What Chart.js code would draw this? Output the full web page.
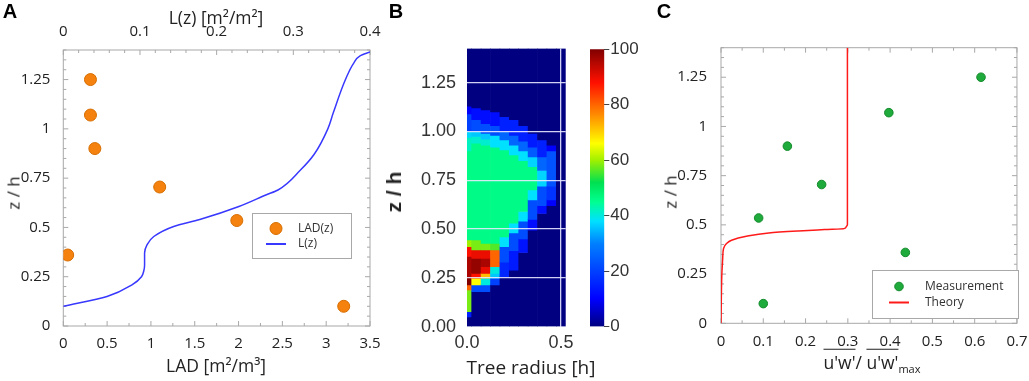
<!DOCTYPE html>
<html>
<head>
<meta charset="utf-8">
<script src="https://cdn.jsdelivr.net/npm/chart.js@4.4.0/dist/chart.umd.min.js"></script>
<style>
  body { margin: 0; background: #fff; }
  #fig { position: relative; width: 1029px; height: 381px; overflow: hidden; font-family: 'Open Sans', sans-serif; color: #222; }
  #fig canvas { position: absolute; top: 0; }
  .lbl { position: absolute; transform: translate(-50%, -50%); white-space: nowrap; line-height: 1; }
  .rot { transform: translate(-50%, -50%) rotate(-90deg); }
  .letter { position: absolute; transform: translate(-50%, -50%); font: bold 20px 'Liberation Sans', Arial, sans-serif; color: #000; line-height: 1; }
  .ol { text-decoration: overline; }
  sub { font-size: 11px; }
</style>
</head>
<body>
<div id="fig">
  <canvas id="chartA" width="400" height="381" style="left:0px"></canvas>
  <canvas id="chartB" width="210" height="381" style="left:370px"></canvas>
  <canvas id="chartCb" width="70" height="381" style="left:580px"></canvas>
  <canvas id="chartC" width="379" height="381" style="left:650px"></canvas>

  <div class="letter" style="left:10px; top:11px">A</div>
  <div class="letter" style="left:396px; top:11px">B</div>
  <div class="letter" style="left:664px; top:11px">C</div>

  <div class="lbl" style="left:216px; top:18px; font-size:17.5px">L(z) [m²/m²]</div>
  <div class="lbl" style="left:216px; top:366px; font-size:17.5px">LAD [m²/m³]</div>
  <div class="lbl rot" style="left:13px; top:193px; font-size:17px">z / h</div>

  <div class="lbl rot" style="left:394px; top:192px; font:bold 21px 'Liberation Sans', Arial, sans-serif">z / h</div>
  <div class="lbl" style="left:531px; top:367px; font-size:19px">Tree radius [h]</div>

  <div class="lbl rot" style="left:670px; top:192px; font-size:17px">z / h</div>
  <div class="lbl" style="left:872px; top:364px; font-size:17.5px"><span class="ol">u'w'</span>/ <span class="ol">u'w'</span><sub>max</sub></div>
</div>
<script>
// ---- panel A: leaf area density and cumulative leaf area ----
const sampleHeights = [0.10, 0.36, 0.535, 0.705, 0.90, 1.07, 1.25];
const ladValues = [3.20, 0.05, 1.98, 1.10, 0.36, 0.31, 0.31];
const cumZ = [0.10, 0.15, 0.21, 0.25, 0.28, 0.31, 0.37, 0.41, 0.454, 0.505, 0.54, 0.606, 0.666, 0.69, 0.79, 0.87, 1.0, 1.08, 1.25, 1.335, 1.37, 1.39];
const cumL = [0, 0.057, 0.09, 0.102, 0.105, 0.106, 0.106, 0.109, 0.118, 0.144, 0.178, 0.229, 0.265, 0.28, 0.309, 0.327, 0.345, 0.352, 0.368, 0.379, 0.387, 0.40];

// ---- panel B: heat map, one column per tree radius, runs of [zLow, zHigh, value] ----
const treeRadius = [0, 0.05, 0.10, 0.15, 0.20, 0.25, 0.30, 0.35, 0.40, 0.45, 0.50];
const cellRuns = [
  [[0, 0.05, 0], [0.05, 0.077, 15], [0.077, 0.188, 58], [0.188, 0.214, 80], [0.214, 0.25, 100], [0.25, 0.36, 96], [0.36, 0.41, 88], [0.41, 0.444, 60], [0.444, 0.90, 46], [0.90, 0.97, 42], [0.97, 1.0, 37], [1.0, 1.09, 20], [1.09, 1.13, 10], [1.13, 1.425, 0]],
  [[0, 0.179, 0], [0.179, 0.214, 22], [0.214, 0.248, 66], [0.248, 0.273, 88], [0.273, 0.35, 98], [0.35, 0.393, 90], [0.393, 0.444, 58], [0.444, 0.94, 46], [0.94, 0.975, 41], [0.975, 1.0, 36], [1.0, 1.06, 22], [1.06, 1.12, 12], [1.12, 1.425, 0]],
  [[0, 0.179, 0], [0.179, 0.214, 22], [0.214, 0.248, 40], [0.248, 0.273, 72], [0.273, 0.307, 90], [0.307, 0.35, 96], [0.35, 0.393, 90], [0.393, 0.427, 58], [0.427, 0.93, 46], [0.93, 0.96, 41], [0.96, 0.99, 36], [0.99, 1.04, 22], [1.04, 1.11, 12], [1.11, 1.425, 0]],
  [[0, 0.214, 0], [0.214, 0.248, 20], [0.248, 0.273, 36], [0.273, 0.307, 40], [0.307, 0.393, 80], [0.393, 0.427, 56], [0.427, 0.92, 46], [0.92, 0.98, 38], [0.98, 1.03, 22], [1.03, 1.10, 12], [1.10, 1.425, 0]],
  [[0, 0.256, 0], [0.256, 0.33, 16], [0.33, 0.41, 22], [0.41, 0.46, 38], [0.46, 0.905, 46], [0.905, 0.957, 38], [0.957, 1.0, 26], [1.0, 1.076, 15], [1.076, 1.425, 0]],
  [[0, 0.29, 0], [0.29, 0.39, 14], [0.39, 0.48, 22], [0.48, 0.53, 38], [0.53, 0.88, 46], [0.88, 0.93, 38], [0.93, 0.98, 26], [0.98, 1.06, 15], [1.06, 1.425, 0]],
  [[0, 0.38, 0], [0.38, 0.45, 13], [0.45, 0.54, 22], [0.54, 0.59, 38], [0.59, 0.85, 46], [0.85, 0.90, 38], [0.90, 0.95, 26], [0.95, 1.03, 15], [1.03, 1.425, 0]],
  [[0, 0.495, 0], [0.495, 0.55, 12], [0.55, 0.65, 22], [0.65, 0.70, 38], [0.70, 0.82, 46], [0.82, 0.87, 37], [0.87, 0.92, 24], [0.92, 0.99, 14], [0.99, 1.425, 0]],
  [[0, 0.58, 0], [0.58, 0.62, 12], [0.62, 0.72, 22], [0.72, 0.80, 37], [0.80, 0.87, 26], [0.87, 0.957, 15], [0.957, 1.425, 0]],
  [[0, 0.62, 0], [0.62, 0.65, 10], [0.65, 0.72, 18], [0.72, 0.90, 23], [0.90, 0.93, 10], [0.93, 1.425, 0]],
  [[0, 1.425, 0]]
];
const cmapStops = [0, 10, 30, 38, 45, 52, 60, 66, 76, 88, 100];
const cmapColors = ['#000080', '#0000ff', '#0080ff', '#00e0ff', '#00ff90', '#00e050', '#a0f000', '#ffff00', '#ff9000', '#ff1000', '#800000'];
const colorbarTicks = [0, 20, 40, 60, 80, 100];

// ---- panel C: momentum flux ----
const fluxValues = [0.10, 0.436, 0.089, 0.238, 0.157, 0.397, 0.615];
const theoryZ = [0, 0.25, 0.33, 0.38, 0.405, 0.422, 0.442, 0.459, 0.469, 0.476, 0.481, 0.49, 0.50, 1.4];
const theoryFlux = [0, 0.002, 0.004, 0.006, 0.013, 0.025, 0.06, 0.113, 0.183, 0.245, 0.291, 0.296, 0.299, 0.299];

const openSans = "'Open Sans', sans-serif";
const arial = "'Liberation Sans', Arial, sans-serif";

function isMajor(v, step) {
  return Math.abs(v / step - Math.round(v / step)) < 1e-6;
}

function num(v) {
  return String(+v.toFixed(3));
}

function hexRgb(h) {
  return [parseInt(h.slice(1, 3), 16), parseInt(h.slice(3, 5), 16), parseInt(h.slice(5, 7), 16)];
}

function colorAt(v) {
  for (let i = 1; i < cmapStops.length; i++) {
    if (v <= cmapStops[i]) {
      const t = (v - cmapStops[i - 1]) / (cmapStops[i] - cmapStops[i - 1]);
      const a = hexRgb(cmapColors[i - 1]), b = hexRgb(cmapColors[i]);
      const c = a.map((x, k) => Math.round(x + (b[k] - x) * t));
      return `rgb(${c[0]},${c[1]},${c[2]})`;
    }
  }
  return cmapColors[cmapColors.length - 1];
}

// box around the plot area with small ticks pointing inwards
const framePlugin = {
  id: 'frame',
  beforeDatasetsDraw(chart, args, opts) {
    const { ctx, chartArea: a } = chart;
    ctx.save();
    ctx.strokeStyle = '#a8a8a8';
    ctx.lineWidth = 1;
    ctx.strokeRect(a.left, a.top, a.right - a.left, a.bottom - a.top);
    opts.axes.forEach(ax => {
      const s = chart.scales[ax.id];
      s.ticks.forEach(t => {
        const p = s.getPixelForValue(t.value);
        const len = t.label === '' ? 3 : 5;
        ax.sides.forEach(side => {
          ctx.beginPath();
          if (side === 'bottom') { ctx.moveTo(p, a.bottom); ctx.lineTo(p, a.bottom - len); }
          if (side === 'top') { ctx.moveTo(p, a.top); ctx.lineTo(p, a.top + len); }
          if (side === 'left') { ctx.moveTo(a.left, p); ctx.lineTo(a.left + len, p); }
          if (side === 'right') { ctx.moveTo(a.right, p); ctx.lineTo(a.right - len, p); }
          ctx.stroke();
        });
      });
    });
    ctx.restore();
  }
};

// legend in a box inside the plot
const boxLegendPlugin = {
  id: 'boxLegend',
  afterDatasetsDraw(chart, args, opts) {
    const { ctx } = chart;
    const b = opts.box;
    ctx.save();
    ctx.fillStyle = '#fff';
    ctx.fillRect(b.x, b.y, b.w, b.h);
    ctx.strokeStyle = '#a8a8a8';
    ctx.lineWidth = 1;
    ctx.strokeRect(b.x + 0.5, b.y + 0.5, b.w, b.h);
    ctx.font = `12px ${openSans}`;
    ctx.textBaseline = 'middle';
    chart.data.datasets.forEach((ds, i) => {
      const y = b.y + opts.rows[i];
      const cx = b.x + opts.symbolX;
      if (ds.type === 'line') {
        ctx.strokeStyle = ds.borderColor;
        ctx.lineWidth = 2;
        ctx.beginPath();
        ctx.moveTo(cx - 10, y);
        ctx.lineTo(cx + 10, y);
        ctx.stroke();
      } else {
        ctx.fillStyle = ds.backgroundColor;
        ctx.strokeStyle = ds.borderColor;
        ctx.lineWidth = 1;
        ctx.beginPath();
        ctx.arc(cx, y, ds.pointRadius, 0, Math.PI * 2);
        ctx.fill();
        ctx.stroke();
      }
      ctx.fillStyle = '#333';
      ctx.fillText(ds.label, b.x + opts.textX, y);
    });
    ctx.restore();
  }
};

function frameAxis(min, max, step, major, pos, size, pad) {
  return {
    type: 'linear', position: pos, min: min, max: max,
    grid: { display: false }, border: { display: false },
    ticks: {
      stepSize: step, autoSkip: false, maxRotation: 0, includeBounds: false,
      padding: pad, color: '#222', font: { family: openSans, size: 15 },
      callback: v => isMajor(v, major) ? num(v) : ''
    },
    afterFit: s => {
      if (pos === 'left') s.width = size; else s.height = size;
    }
  };
}

// ---- chart A ----
new Chart(document.getElementById('chartA'), {
  type: 'scatter',
  data: {
    datasets: [
      {
        label: 'LAD(z)',
        data: ladValues.map((v, i) => ({ x: v, y: sampleHeights[i] })),
        xAxisID: 'x',
        pointRadius: 6,
        backgroundColor: '#f5820f',
        borderColor: '#d66d00',
        borderWidth: 1
      },
      {
        label: 'L(z)',
        type: 'line',
        data: cumL.map((v, i) => ({ x: v, y: cumZ[i] })),
        xAxisID: 'x2',
        indexAxis: 'y',
        cubicInterpolationMode: 'monotone',
        borderColor: '#3838ff',
        borderWidth: 1.5,
        pointRadius: 0,
        fill: false
      }
    ]
  },
  options: {
    responsive: false,
    animation: false,
    layout: { padding: { left: 0, right: 30, top: 0, bottom: 0 } },
    plugins: {
      legend: { display: false },
      tooltip: { enabled: false },
      frame: { axes: [{ id: 'x', sides: ['bottom'] }, { id: 'x2', sides: ['top'] }, { id: 'y', sides: ['left', 'right'] }] },
      boxLegend: { box: { x: 252, y: 213, w: 99, h: 45 }, rows: [15.5, 31], symbolX: 24, textX: 46 }
    },
    scales: {
      x: frameAxis(0, 3.5, 0.25, 0.5, 'bottom', 55, 1),
      x2: frameAxis(0, 0.4, 0.02, 0.1, 'top', 50, 1),
      y: frameAxis(0, 1.4, 0.05, 0.25, 'left', 63.3, 5)
    }
  },
  plugins: [framePlugin, boxLegendPlugin]
});

// ---- chart B: heat map from floating bars ----
const heatCells = [];
treeRadius.forEach((r, i) => {
  cellRuns[i].forEach(run => heatCells.push({ x: r, y: [run[0], run[1]], v: run[2] }));
});

const whiteGrid = c => (c.tick && c.tick.value === 0) ? 'rgba(0,0,0,0)' : 'rgba(232,232,255,0.9)';

new Chart(document.getElementById('chartB'), {
  type: 'bar',
  data: {
    datasets: [{
      data: heatCells,
      backgroundColor: c => colorAt(c.raw ? c.raw.v : 0),
      borderWidth: 0,
      barPercentage: 1,
      categoryPercentage: 1
    }]
  },
  options: {
    responsive: false,
    animation: false,
    layout: { padding: { left: 0, right: 10, top: 48.5, bottom: 0 } },
    plugins: { legend: { display: false }, tooltip: { enabled: false } },
    scales: {
      x: {
        type: 'linear', min: 0, max: 0.525, offset: false,
        grid: { offset: false, drawTicks: false, color: whiteGrid, lineWidth: 1.3, z: 1 },
        border: { display: false },
        ticks: {
          stepSize: 0.5, includeBounds: false, maxRotation: 0, padding: 6,
          color: '#333', font: { family: arial, size: 18 },
          callback: v => v.toFixed(1)
        },
        afterFit: s => { s.height = 54.3; }
      },
      y: {
        type: 'linear', min: 0, max: 1.425, beginAtZero: true,
        grid: { drawTicks: false, color: whiteGrid, lineWidth: 1.3, z: 1 },
        border: { display: false },
        ticks: {
          stepSize: 0.25, includeBounds: false, padding: 11,
          color: '#333', font: { family: arial, size: 18 },
          callback: v => v.toFixed(2)
        },
        afterFit: s => { s.width = 97; }
      }
    }
  }
});

// ---- colour bar ----
new Chart(document.getElementById('chartCb'), {
  type: 'bar',
  data: {
    labels: [''],
    datasets: [{
      data: [[colorbarTicks[0], colorbarTicks[colorbarTicks.length - 1]]],
      backgroundColor: c => {
        const chart = c.chart;
        if (!chart.chartArea) return cmapColors[0];
        const ys = chart.scales.y;
        const g = chart.ctx.createLinearGradient(0, ys.getPixelForValue(0), 0, ys.getPixelForValue(100));
        cmapStops.forEach((s, i) => g.addColorStop(s / 100, cmapColors[i]));
        return g;
      },
      borderWidth: 0,
      barPercentage: 1,
      categoryPercentage: 1
    }]
  },
  options: {
    responsive: false,
    animation: false,
    layout: { padding: { left: 10, right: 0, top: 49.3, bottom: 54.3 } },
    plugins: { legend: { display: false }, tooltip: { enabled: false } },
    scales: {
      x: { display: false },
      y: {
        position: 'right', min: 0, max: 100,
        grid: { drawOnChartArea: false, tickLength: 5, color: '#444', lineWidth: 1 },
        border: { display: false },
        ticks: {
          stepSize: 20, padding: 1, color: '#333', font: { family: arial, size: 17 }
        },
        afterFit: s => { s.width = 45.7; }
      }
    }
  }
});

// ---- chart C ----
new Chart(document.getElementById('chartC'), {
  type: 'scatter',
  data: {
    datasets: [
      {
        label: 'Measurement',
        data: fluxValues.map((v, i) => ({ x: v, y: sampleHeights[i] })),
        pointRadius: 4.3,
        backgroundColor: '#1fab3b',
        borderColor: '#148a2c',
        borderWidth: 1
      },
      {
        label: 'Theory',
        type: 'line',
        data: theoryFlux.map((v, i) => ({ x: v, y: theoryZ[i] })),
        indexAxis: 'y',
        cubicInterpolationMode: 'monotone',
        borderColor: '#ff1a1a',
        borderWidth: 1.5,
        pointRadius: 0,
        fill: false
      }
    ]
  },
  options: {
    responsive: false,
    animation: false,
    layout: { padding: { left: 0, right: 5.7, top: 47.7, bottom: 0 } },
    plugins: {
      legend: { display: false },
      tooltip: { enabled: false },
      frame: { axes: [{ id: 'x', sides: ['bottom', 'top'] }, { id: 'y', sides: ['left', 'right'] }] },
      boxLegend: { box: { x: 222, y: 270, w: 146, h: 48 }, rows: [16.5, 32.5], symbolX: 27, textX: 53 }
    },
    scales: {
      x: frameAxis(0, 0.7, 0.05, 0.1, 'bottom', 57.7, 1.5),
      y: frameAxis(0, 1.4, 0.05, 0.25, 'left', 71, 6)
    }
  },
  plugins: [framePlugin, boxLegendPlugin]
});
</script>
</body>
</html>
